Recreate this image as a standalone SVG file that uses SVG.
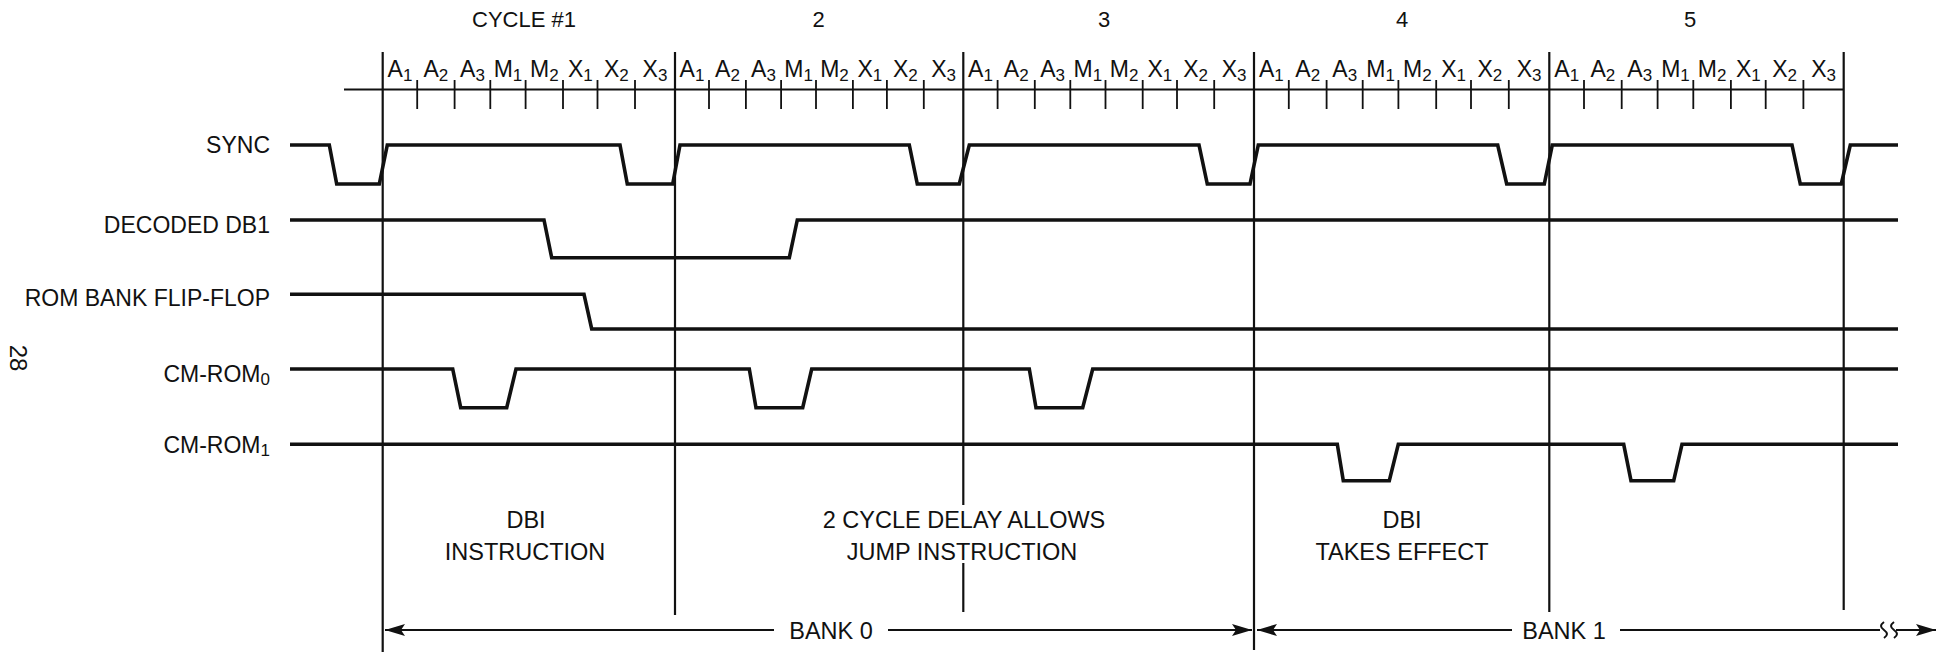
<svg xmlns="http://www.w3.org/2000/svg" width="1947" height="654" viewBox="0 0 1947 654">
<style>
  text { font-family: "Liberation Sans", Arial, sans-serif; fill: #111; }
  .lbl { font-size: 23px; text-anchor: end; }
  .cyc { font-size: 22px; text-anchor: middle; }
  .tk { font-size: 23px; text-anchor: middle; }
  .sub { font-size: 17px; }
  .note { font-size: 23.5px; text-anchor: middle; }
  .sig { fill: none; stroke: #111; stroke-width: 3.6; stroke-linejoin: miter; }
  .grid { stroke: #111; stroke-width: 2.2; fill: none; }
  .tick { stroke: #111; stroke-width: 1.8; }
  .arr { stroke: #111; stroke-width: 2; fill: none; }
</style>
<defs>
  <marker id="ah" viewBox="0 0 20 12" refX="20" refY="6" markerWidth="20" markerHeight="12" markerUnits="userSpaceOnUse" orient="auto">
    <path d="M0,0 L20,6 L0,12 L4,6 z" fill="#111"/>
  </marker>
</defs>
<rect width="1947" height="654" fill="#fff"/>

<text transform="translate(18,358) rotate(90)" x="0" y="8" style="font-size:24px" text-anchor="middle">28</text>

<g id="cycle-labels">
  <text class="cyc" x="524" y="27">CYCLE #1</text>
  <text class="cyc" x="818.5" y="27">2</text>
  <text class="cyc" x="1104" y="27">3</text>
  <text class="cyc" x="1402" y="27">4</text>
  <text class="cyc" x="1690" y="27">5</text>
</g>

<g id="grid">
  <line class="grid" x1="344" y1="89.5" x2="1844" y2="89.5"/>
  <line class="grid" x1="382.7" y1="52" x2="382.7" y2="652"/>
  <line class="grid" x1="675" y1="52" x2="675" y2="615"/>
  <line class="grid" x1="963.3" y1="52" x2="963.3" y2="505"/>
  <line class="grid" x1="963.3" y1="563" x2="963.3" y2="612"/>
  <line class="grid" x1="1254" y1="52" x2="1254" y2="650"/>
  <line class="grid" x1="1549.3" y1="52" x2="1549.3" y2="612"/>
  <line class="grid" x1="1843.7" y1="52" x2="1843.7" y2="610"/>
  <path class="tick" d="M417.2,80V109M454.6,80V109M490.3,80V109M525.6,80V109M563,80V109M597.5,80V109M635,80V109
    M709,80V109M745.9,80V109M781.1,80V109M816,80V109M852.9,80V109M886.9,80V109M923.8,80V109
    M997.6,80V109M1034.8,80V109M1070.3,80V109M1105.5,80V109M1142.7,80V109M1177,80V109M1214.2,80V109
    M1288.8,80V109M1326.6,80V109M1362.7,80V109M1398.4,80V109M1436.2,80V109M1471,80V109M1508.8,80V109
    M1584,80V109M1621.7,80V109M1657.6,80V109M1693.3,80V109M1730.9,80V109M1765.7,80V109M1803.4,80V109"/>
</g>

<g id="phase-labels">
  <text class="tk" x="400" y="77">A<tspan class="sub" dy="4">1</tspan></text>
  <text class="tk" x="435.9" y="77">A<tspan class="sub" dy="4">2</tspan></text>
  <text class="tk" x="472.5" y="77">A<tspan class="sub" dy="4">3</tspan></text>
  <text class="tk" x="508" y="77">M<tspan class="sub" dy="4">1</tspan></text>
  <text class="tk" x="544.3" y="77">M<tspan class="sub" dy="4">2</tspan></text>
  <text class="tk" x="580.3" y="77">X<tspan class="sub" dy="4">1</tspan></text>
  <text class="tk" x="616.3" y="77">X<tspan class="sub" dy="4">2</tspan></text>
  <text class="tk" x="655" y="77">X<tspan class="sub" dy="4">3</tspan></text>

  <text class="tk" x="692" y="77">A<tspan class="sub" dy="4">1</tspan></text>
  <text class="tk" x="727.5" y="77">A<tspan class="sub" dy="4">2</tspan></text>
  <text class="tk" x="763.5" y="77">A<tspan class="sub" dy="4">3</tspan></text>
  <text class="tk" x="798.6" y="77">M<tspan class="sub" dy="4">1</tspan></text>
  <text class="tk" x="834.5" y="77">M<tspan class="sub" dy="4">2</tspan></text>
  <text class="tk" x="869.9" y="77">X<tspan class="sub" dy="4">1</tspan></text>
  <text class="tk" x="905.4" y="77">X<tspan class="sub" dy="4">2</tspan></text>
  <text class="tk" x="943.6" y="77">X<tspan class="sub" dy="4">3</tspan></text>

  <text class="tk" x="980.5" y="77">A<tspan class="sub" dy="4">1</tspan></text>
  <text class="tk" x="1016.2" y="77">A<tspan class="sub" dy="4">2</tspan></text>
  <text class="tk" x="1052.6" y="77">A<tspan class="sub" dy="4">3</tspan></text>
  <text class="tk" x="1087.9" y="77">M<tspan class="sub" dy="4">1</tspan></text>
  <text class="tk" x="1124.1" y="77">M<tspan class="sub" dy="4">2</tspan></text>
  <text class="tk" x="1159.9" y="77">X<tspan class="sub" dy="4">1</tspan></text>
  <text class="tk" x="1195.6" y="77">X<tspan class="sub" dy="4">2</tspan></text>
  <text class="tk" x="1234.1" y="77">X<tspan class="sub" dy="4">3</tspan></text>

  <text class="tk" x="1271.4" y="77">A<tspan class="sub" dy="4">1</tspan></text>
  <text class="tk" x="1307.7" y="77">A<tspan class="sub" dy="4">2</tspan></text>
  <text class="tk" x="1344.7" y="77">A<tspan class="sub" dy="4">3</tspan></text>
  <text class="tk" x="1380.6" y="77">M<tspan class="sub" dy="4">1</tspan></text>
  <text class="tk" x="1417.3" y="77">M<tspan class="sub" dy="4">2</tspan></text>
  <text class="tk" x="1453.6" y="77">X<tspan class="sub" dy="4">1</tspan></text>
  <text class="tk" x="1489.9" y="77">X<tspan class="sub" dy="4">2</tspan></text>
  <text class="tk" x="1529.1" y="77">X<tspan class="sub" dy="4">3</tspan></text>

  <text class="tk" x="1566.7" y="77">A<tspan class="sub" dy="4">1</tspan></text>
  <text class="tk" x="1602.9" y="77">A<tspan class="sub" dy="4">2</tspan></text>
  <text class="tk" x="1639.7" y="77">A<tspan class="sub" dy="4">3</tspan></text>
  <text class="tk" x="1675.5" y="77">M<tspan class="sub" dy="4">1</tspan></text>
  <text class="tk" x="1712.1" y="77">M<tspan class="sub" dy="4">2</tspan></text>
  <text class="tk" x="1748.3" y="77">X<tspan class="sub" dy="4">1</tspan></text>
  <text class="tk" x="1784.6" y="77">X<tspan class="sub" dy="4">2</tspan></text>
  <text class="tk" x="1823.6" y="77">X<tspan class="sub" dy="4">3</tspan></text>
</g>

<g id="sync">
  <text class="lbl" x="270" y="153">SYNC</text>
  <polyline class="sig" points="290,145 329.3,145 336.7,184 379.3,184 387.3,145 620,145 627.3,184 672.7,184 680,145 909.3,145 917.3,184 959.3,184 969.3,145 1199,145 1207.3,184 1250,184 1258.3,145 1497.7,145 1506.7,184 1544.3,184 1552.3,145 1792,145 1800.3,184 1841.3,184 1850.3,145 1898,145"/>
</g>
<g id="decoded-db1">
  <text class="lbl" x="270" y="233">DECODED DB1</text>
  <polyline class="sig" points="290,220 544,220 551.7,257.7 789.3,257.7 797.3,220 1898,220"/>
</g>
<g id="rom-bank-flip-flop">
  <text class="lbl" x="270" y="306">ROM BANK FLIP-FLOP</text>
  <polyline class="sig" points="290,294.3 584,294.3 591.7,329 1898,329"/>
</g>
<g id="cm-rom0">
  <text class="lbl" x="270" y="382">CM-ROM<tspan class="sub" style="font-size:17px" dy="3">0</tspan></text>
  <polyline class="sig" points="290,369 452.7,369 460.7,407.7 506.7,407.7 516,369 749.3,369 756,407.7 802.7,407.7 811.7,369 1029.3,369 1036,407.7 1082.7,407.7 1092.7,369 1898,369"/>
</g>
<g id="cm-rom1">
  <text class="lbl" x="270" y="453">CM-ROM<tspan class="sub" style="font-size:17px" dy="3">1</tspan></text>
  <polyline class="sig" points="290,444.3 1337.3,444.3 1343.3,480.7 1389.3,480.7 1398.3,444.3 1623.7,444.3 1631,480.7 1673.7,480.7 1682,444.3 1898,444.3"/>
</g>

<g id="notes">
  <text class="note" x="526" y="528">DBI</text>
  <text class="note" x="525" y="560">INSTRUCTION</text>
  <text class="note" x="964" y="528">2 CYCLE DELAY ALLOWS</text>
  <text class="note" x="962" y="560">JUMP INSTRUCTION</text>
  <text class="note" x="1402" y="528">DBI</text>
  <text class="note" x="1402" y="560">TAKES EFFECT</text>
  <text class="note" x="831" y="639">BANK 0</text>
  <text class="note" x="1564" y="639">BANK 1</text>
</g>

<g id="connectors">
  <path class="arr" d="M774,630 H385" marker-end="url(#ah)"/>
  <path class="arr" d="M888,630 H1252" marker-end="url(#ah)"/>
  <path class="arr" d="M1512,630 H1257" marker-end="url(#ah)"/>
  <path class="arr" d="M1620,630 H1880"/>
  <path class="arr" d="M1884,622 c-4,3 -4,5 0,8 c4,3 4,5 0,8"/>
  <path class="arr" d="M1894,622 c-4,3 -4,5 0,8 c4,3 4,5 0,8"/>
  <path class="arr" d="M1896,630 H1936" marker-end="url(#ah)"/>
</g>
</svg>
